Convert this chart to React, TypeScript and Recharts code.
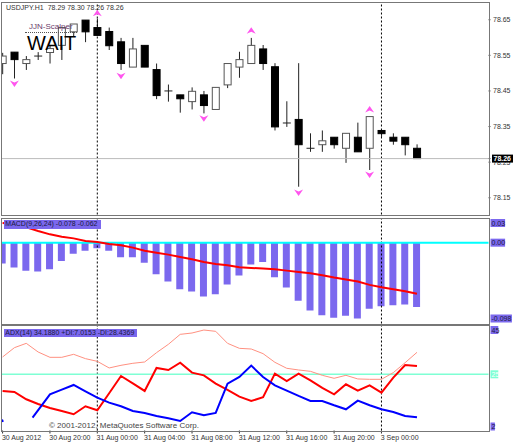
import { Bar, ComposedChart, Line, ReferenceLine, Scatter, XAxis, YAxis } from "recharts";

// prices, one entry per H1 candle
const opens = [78.527, 78.559, 78.527, 78.548, 78.558, 78.578, 78.616, 78.649, 78.628, 78.617, 78.588, 78.517, 78.578, 78.510, 78.450, 78.439, 78.420, 78.439, 78.398, 78.467, 78.517, 78.527, 78.568, 78.518, 78.360, 78.370, 78.289, 78.299, 78.320, 78.289, 78.320, 78.289, 78.339, 78.320, 78.320, 78.289];
const closes = [78.548, 78.538, 78.538, 78.548, 78.569, 78.628, 78.638, 78.616, 78.606, 78.577, 78.527, 78.568, 78.517, 78.437, 78.450, 78.428, 78.449, 78.409, 78.460, 78.527, 78.538, 78.578, 78.527, 78.349, 78.360, 78.299, 78.289, 78.310, 78.299, 78.331, 78.279, 78.378, 78.330, 78.309, 78.299, 78.260];
const highs = [78.557, 78.559, 78.548, 78.559, 78.579, 78.628, 78.638, 78.649, 78.653, 78.628, 78.599, 78.599, 78.578, 78.527, 78.468, 78.439, 78.460, 78.450, 78.460, 78.527, 78.560, 78.599, 78.579, 78.528, 78.421, 78.528, 78.331, 78.339, 78.320, 78.331, 78.361, 78.378, 78.339, 78.331, 78.320, 78.300];
const lows = [78.497, 78.485, 78.509, 78.537, 78.527, 78.537, 78.604, 78.587, 78.606, 78.565, 78.509, 78.517, 78.517, 78.427, 78.420, 78.389, 78.398, 78.387, 78.398, 78.458, 78.487, 78.527, 78.509, 78.339, 78.349, 78.181, 78.279, 78.279, 78.288, 78.248, 78.279, 78.228, 78.321, 78.299, 78.269, 78.260];

const upMarks = [
  { i: 8, price: 78.668 },
  { i: 21, price: 78.619 },
  { i: 31, price: 78.398 },
];
const downMarks = [
  { i: 1, price: 78.471 },
  { i: 10, price: 78.493 },
  { i: 17, price: 78.373 },
  { i: 25, price: 78.165 },
  { i: 31, price: 78.215 },
];

const macdBars = [-0.0254, -0.0302, -0.0339, -0.0351, -0.0322, -0.0222, -0.0133, -0.0097, -0.0069, -0.0097, -0.0177, -0.0177, -0.0242, -0.0383, -0.0472, -0.0564, -0.0592, -0.0653, -0.0625, -0.0508, -0.0399, -0.0266, -0.0234, -0.0419, -0.0544, -0.0705, -0.0822, -0.0879, -0.0911, -0.0887, -0.0919, -0.0802, -0.077, -0.0758, -0.075, -0.078];
const macdSignal = [0.0238, 0.0226, 0.0185, 0.0141, 0.0101, 0.0073, 0.0052, 0.002, 0.0008, -0.0016, -0.0032, -0.006, -0.0097, -0.0121, -0.0145, -0.0173, -0.0202, -0.0234, -0.0258, -0.0274, -0.0298, -0.0306, -0.0314, -0.0322, -0.0339, -0.0355, -0.0371, -0.0395, -0.0423, -0.0447, -0.0472, -0.0512, -0.054, -0.0564, -0.0588, -0.062];

const adxMain = [32.24, 36.14, 37.95, 34.33, 32.1, 32.1, 33.36, 31.55, 30.43, 27.65, 28.76, 29.6, 30.15, 34.05, 37.53, 41.71, 42.27, 43.52, 42.97, 37.95, 35.86, 35.58, 33.64, 30.01, 27.51, 26.81, 26.25, 24.58, 23.33, 24.58, 23.05, 22.91, 22.91, 25.7, 29.87, 34.19];
const diMinus = [18.04, 17.62, 14.55, 12.6, 10.93, 9.68, 8.29, 11.63, 9.96, 17.06, 24.3, 21.24, 18.04, 27.65, 26.81, 29.87, 25.7, 24.58, 21.1, 18.45, 15.67, 13.86, 15.39, 25.28, 22.21, 25.28, 22.49, 19.29, 16.64, 20.82, 18.18, 20.4, 17.34, 23.61, 28.9, 28.44];
// +DI runs off the bottom of the window for the first bars, so it has its own x list
const diPlusX = [-0.05, 0.03, 1, 2.53, 4, 5, 6, 7, 8, 9, 10, 11, 12, 13, 14, 15, 16, 17, 18, 19, 20, 21, 22, 23, 24, 25, 26, 27, 28, 29, 30, 31, 32, 33, 34, 35];
const diPlus = [6.06, 5.08, null, 6.89, 16.64, 18.59, 20.54, 17.9, 15.25, 13.16, 11.63, 9.68, 8.84, 7.59, 6.62, 5.5, 9.12, 7.87, 8.84, 21.1, 23.89, 28.62, 23.89, 20.4, 18.18, 15.95, 13.86, 13.86, 12.05, 10.38, 14.0, 12.05, 10.38, 9.26, 7.59, 7.02];

const priceTicks = [78.65, 78.55, 78.45, 78.35, 78.25, 78.15, 78.26];
const macdTicks = [0.0287, 0, -0.098];
const macdTickLabels = ["0.03", "0.00", "-0.098"];
const macdNudge = [4, 0, -5];
const adxTicks = [45.2, 25, 1.5];
const adxTickLabels = ["45", "25", "2"];
const adxNudge = [4, 0, -4];
const timeTicks = [0, 4, 8, 12, 16, 20, 24, 28, 32];
const timeLabels = ["30 Aug 2012", "30 Aug 20:00", "31 Aug 00:00", "31 Aug 04:00", "31 Aug 08:00", "31 Aug 12:00", "31 Aug 16:00", "31 Aug 20:00", "3 Sep 00:00"];
const dividers = [8, 32];
const lastPrice = 78.26;

const FONT = "'Liberation Sans', Arial, sans-serif";
const PURPLE = "#7B68EE";
const LEVEL = "#7FFFD4";
const xDomain: [number, number] = [-0.05, 41.04];

const candleRows = opens.map((open, i) => ({ i, open, close: closes[i], high: highs[i], low: lows[i] }));
const macdRows = macdBars.map((hist, i) => ({ i, hist, signal: macdSignal[i] }));
const adxRows = adxMain.map((adx, i) => ({ i, adx, minus: diMinus[i] }));
const plusRows = diPlusX.map((i, k) => ({ i, plus: diPlus[k] }));

const Candle = (props: any) => {
  const { x, y, width, height, payload } = props;
  const { open, close, high, low } = payload;
  const cx = x + width / 2;
  const toY = (v: number) => y + ((high - v) / (high - low)) * height;
  const top = toY(Math.max(open, close));
  const bottom = toY(Math.min(open, close));
  const bull = close >= open;
  return (
    <g>
      <line x1={cx} x2={cx} y1={y} y2={y + height} stroke="#222" strokeWidth={1} />
      {open === close ? (
        <line x1={x} x2={x + width} y1={top} y2={top} stroke="#222" strokeWidth={1} />
      ) : (
        <rect
          x={x + 0.5}
          y={top}
          width={width - 1}
          height={bottom - top}
          fill={bull ? "#fff" : "#000"}
          stroke={bull ? "#555" : "#000"}
          strokeWidth={1}
        />
      )}
    </g>
  );
};

const UpArrow = ({ cx, cy }: any) => (
  <path d={`M${cx} ${cy - 3.5}L${cx + 4.5} ${cy + 3}L${cx} ${cy + 1}L${cx - 4.5} ${cy + 3}Z`} fill="#ff55ee" />
);
const DownArrow = ({ cx, cy }: any) => (
  <path d={`M${cx} ${cy + 3.5}L${cx + 4.5} ${cy - 3}L${cx} ${cy - 1}L${cx - 4.5} ${cy - 3}Z`} fill="#ff55ee" />
);

const PriceTick = ({ x, y, payload }: any) => {
  if (payload.value === lastPrice) {
    return (
      <g>
        <rect x={x + 1.5} y={y - 4} width={21} height={8} fill="#000" />
        <text x={x + 3} y={y + 2.5} fontSize={7} fontWeight="bold" fontFamily={FONT} fill="#fff">
          {payload.value.toFixed(2)}
        </text>
      </g>
    );
  }
  return (
    <text x={x + 2.5} y={y + 2.5} fontSize={7} fontFamily={FONT} fill="#333">
      {payload.value.toFixed(2)}
    </text>
  );
};

const boxedTick = (ticks: number[], labels: string[], nudge: number[]) => ({ x, y, payload }: any) => {
  const k = ticks.indexOf(payload.value);
  const label = labels[k];
  const level = label === "25";
  return (
    <g>
      <rect
        x={x}
        y={y + nudge[k] - 4}
        width={label.length * 3.4 + 1}
        height={8}
        fill={level ? LEVEL : PURPLE}
      />
      <text x={x + 1} y={y + nudge[k] + 2.5} fontSize={7} fontFamily={FONT} fill={level ? "#fff" : "#1a1a40"}>
        {label}
      </text>
    </g>
  );
};

const TimeTick = ({ x, y, payload }: any) => (
  <text x={x - 0.7} y={y + 6.5} fontSize={7} fontFamily={FONT} fill="#333">
    {timeLabels[timeTicks.indexOf(payload.value)]}
  </text>
);

const Tag = ({ left, top, size = 7, color = "#333", bg, children }: any) => (
  <div
    style={{
      position: "absolute",
      left,
      top,
      fontFamily: FONT,
      fontSize: size,
      lineHeight: 1.2,
      color,
      background: bg,
      whiteSpace: "nowrap",
    }}
  >
    {children}
  </div>
);

const Frame = ({ top, height }: any) => (
  <div
    style={{
      position: "absolute",
      left: 1,
      top,
      width: 488.5,
      height,
      boxSizing: "border-box",
      border: "1.5px solid #777",
      pointerEvents: "none",
    }}
  />
);

const Dividers = () => (
  <>
    {dividers.map((d) => (
      <ReferenceLine key={d} x={d} stroke="#000" strokeDasharray="2 2" />
    ))}
  </>
);

const App = () => {
  return (
    <div style={{ position: "absolute", left: 0, top: 0, width: 518, height: 444, background: "#fff", overflow: "hidden" }}>
      <div style={{ position: "absolute", left: 0, top: 0 }}>
        <ComposedChart width={518} height={216} data={candleRows} margin={{ top: 3, right: 0, bottom: 1.5, left: 2 }}>
          <XAxis dataKey="i" type="number" domain={xDomain} allowDataOverflow hide />
          <YAxis
            orientation="right"
            type="number"
            width={29.5}
            domain={[78.103, 78.697]}
            allowDataOverflow
            ticks={priceTicks}
            interval={0}
            tick={PriceTick}
            tickSize={2}
            tickMargin={0}
            axisLine={false}
            tickLine={{ stroke: "#555" }}
          />
          {Dividers()}
          <ReferenceLine y={lastPrice} stroke="#bbb" />
          <Bar dataKey={(d: any) => [d.low, d.high]} barSize={8} shape={Candle} isAnimationActive={false} />
          <Scatter data={upMarks} dataKey="price" shape={UpArrow} isAnimationActive={false} />
          <Scatter data={downMarks} dataKey="price" shape={DownArrow} isAnimationActive={false} />
        </ComposedChart>
      </div>

      <div style={{ position: "absolute", left: 0, top: 217 }}>
        <ComposedChart width={518} height={108} data={macdRows} margin={{ top: 2, right: 0, bottom: 1.5, left: 2 }}>
          <XAxis dataKey="i" type="number" domain={xDomain} allowDataOverflow hide />
          <YAxis
            orientation="right"
            type="number"
            width={29.5}
            domain={[-0.098, 0.0287]}
            allowDataOverflow
            ticks={macdTicks}
            interval={0}
            tick={boxedTick(macdTicks, macdTickLabels, macdNudge)}
            tickSize={2}
            tickMargin={0}
            axisLine={false}
            tickLine={false}
          />
          <Bar dataKey="hist" barSize={7} fill={PURPLE} isAnimationActive={false} />
          {Dividers()}
          <ReferenceLine y={0} stroke="#00FFFF" strokeWidth={2} />
          <Line dataKey="signal" stroke="#ff0000" strokeWidth={2} dot={false} isAnimationActive={false} />
        </ComposedChart>
      </div>

      <div style={{ position: "absolute", left: 0, top: 324 }}>
        <ComposedChart width={518} height={120} data={adxRows} margin={{ top: 2, right: 0, bottom: 0, left: 2 }}>
          <XAxis
            dataKey="i"
            type="number"
            domain={xDomain}
            allowDataOverflow
            height={13.5}
            ticks={timeTicks}
            interval={0}
            tick={TimeTick}
            tickSize={3}
            tickMargin={0}
            axisLine={false}
            tickLine={{ stroke: "#333" }}
          />
          <YAxis
            orientation="right"
            type="number"
            width={29.5}
            domain={[1.5, 45.2]}
            allowDataOverflow
            ticks={adxTicks}
            interval={0}
            tick={boxedTick(adxTicks, adxTickLabels, adxNudge)}
            tickSize={2}
            tickMargin={0}
            axisLine={false}
            tickLine={false}
          />
          {Dividers()}
          <ReferenceLine y={25} stroke={LEVEL} strokeWidth={1.5} />
          <Line dataKey="adx" stroke="#ff9080" strokeWidth={1} dot={false} isAnimationActive={false} />
          <Line dataKey="minus" stroke="#ff0000" strokeWidth={2} dot={false} isAnimationActive={false} />
          <Line data={plusRows} dataKey="plus" stroke="#0000ff" strokeWidth={2} dot={false} isAnimationActive={false} />
        </ComposedChart>
      </div>

      <Frame top={1.5} height={214} />
      <Frame top={218} height={106.5} />
      <Frame top={325} height={106.5} />

      <Tag left={6} top={3.5}>USDJPY.H1</Tag>
      <Tag left={47.7} top={3.5}>78.29 78.30 78.26 78.26</Tag>
      <Tag left={29} top={21.5} size={8} color="#6a3a6a">JJN-Scalper</Tag>
      <div style={{ position: "absolute", left: 25, top: 32, width: 52, borderTop: "1.5px dotted #555" }} />
      <Tag left={27} top={31} size={20} color="#000">WAIT</Tag>
      <Tag left={4.3} top={220.3} bg={PURPLE} color="#1a1a40">
        <span style={{ padding: "0 3px 0 1px" }}>MACD(9,26,24) -0.078 -0.062</span>
      </Tag>
      <Tag left={4.3} top={329} bg={PURPLE} color="#1a1a40">
        <span style={{ padding: "0 3px 0 1px" }}>ADX(14) 34.1880 +DI:7.0153 -DI:28.4369</span>
      </Tag>
      <Tag left={49} top={421} size={8} color="#444">© 2001-2012, MetaQuotes Software Corp.</Tag>
    </div>
  );
};

export default App;
